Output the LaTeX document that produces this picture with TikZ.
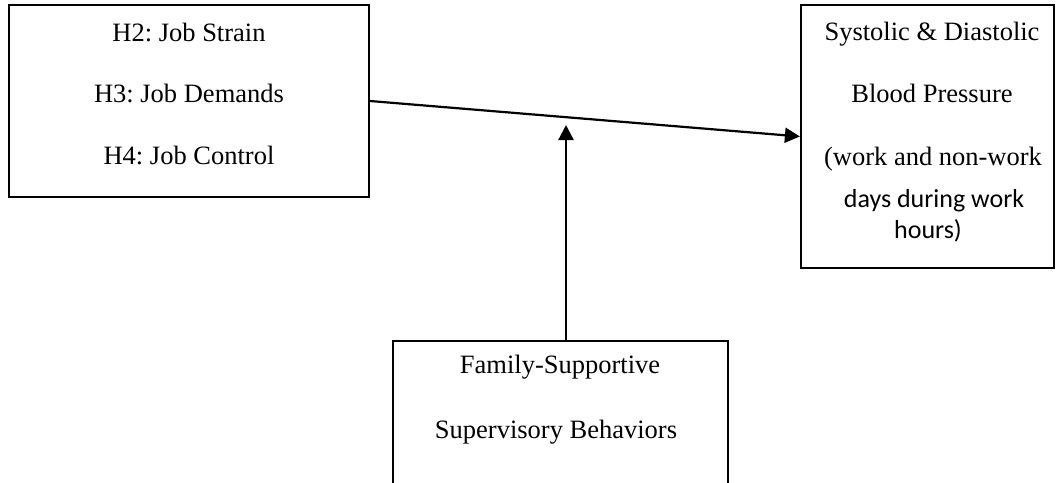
\documentclass[tikz,border=0pt]{standalone}
\usepackage{fontspec}
\setmainfont{Liberation Serif}
\newfontfamily\calibrifont{Carlito}
\usetikzlibrary{arrows.meta}
\frenchspacing
\begin{document}
\begin{tikzpicture}[x=1pt,y=-1pt,
  boxstyle/.style={draw=black,line width=2.2pt,minimum width=#1,inner sep=0pt},
  txt/.style={anchor=base,inner sep=0pt,font=\fontsize{26.5}{30}\selectfont},
  ctxt/.style={anchor=base,inner sep=0pt,font=\calibrifont\fontsize{26}{30}\selectfont},
  arr/.style={line width=2.2pt,-{Triangle[length=15pt,width=15pt]}}]
\useasboundingbox (0,0) rectangle (1056,482);
\clip (0,0) rectangle (1056,482);
% boxes
\node[boxstyle=360pt,minimum height=192pt] (L) at (189,101) {};
\node[boxstyle=253pt,minimum height=263pt] (R) at (927.5,136.5) {};
\node[boxstyle=335pt,minimum height=180pt] (B) at (560.5,431) {};
% texts
\node[txt] (l1) at (189,41) {H2: Job Strain};
\node[txt] (l2) at (189,102) {H3: Job Demands};
\node[txt] (l3) at (189,164.5) {H4: Job Control};
\node[txt] (r1) at (932,40.5) {Systolic \& Diastolic};
\node[txt] (r2) at (932,102) {Blood Pressure};
\node[txt] (r3) at (933,165) {(work and non-work};
\node[ctxt] (r4) at (934,207) {days during work};
\node[ctxt] (r5) at (928,238) {hours)};
\node[txt] (b1) at (560,373) {Family-Supportive};
\node[txt] (b2) at (556,438) {Supervisory Behaviors};
% connectors
\coordinate (mod) at (566,125);
\draw[arr] (L.east) -- (R.west);
\draw[arr] (B.north -| mod) -- (mod);
\end{tikzpicture}
\end{document}
